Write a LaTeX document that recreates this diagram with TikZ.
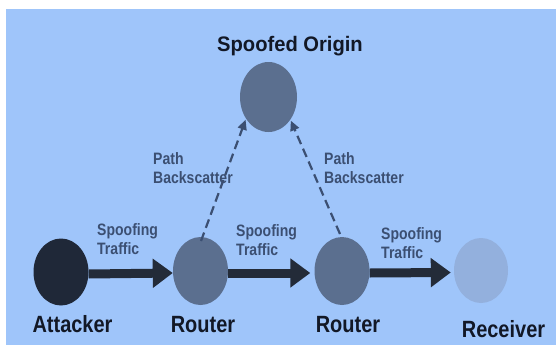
\documentclass[tikz,border=0pt]{standalone}
\usepackage{fontspec}
\setmainfont{Liberation Sans}
\newfontfamily\condsans{Liberation Sans}[FakeStretch=0.85]
\newfontfamily\titlesans{Liberation Sans}[FakeStretch=0.96]
\usetikzlibrary{arrows.meta,shapes.geometric}
\definecolor{bgblue}{HTML}{9FC5FA}
\definecolor{hostdark}{HTML}{1F2838}
\definecolor{hostmid}{HTML}{5B6F8F}
\definecolor{hostlight}{HTML}{93B0DD}
\definecolor{inkdark}{HTML}{121826}
\definecolor{inklabel}{HTML}{3B4F72}
\definecolor{shaft}{HTML}{232B38}
\tikzset{
  host/.style={ellipse, minimum width=55pt, minimum height=68pt, inner sep=0pt, fill=#1},
  hostname/.style={font=\condsans\bfseries\fontsize{23.5}{25}\selectfont, text=inkdark, inner sep=0pt, anchor=base},
  smalllabel/.style={font=\condsans\bfseries\fontsize{16.5}{19}\selectfont, text=inklabel, align=left, anchor=north west, inner sep=0pt},
  flow/.style={draw=shaft, line width=9pt, -{Triangle[length=20pt,width=28pt]}},
  backflow/.style={draw=inklabel, line width=2.2pt, dash pattern=on 9pt off 5pt, -{Triangle[length=10pt,width=9pt]}, shorten >=1pt}
}
\begin{document}
\begin{tikzpicture}[x=1pt,y=-1pt]
\useasboundingbox (0,0) rectangle (556,345);
\fill[white] (0,0) rectangle (556,345);
\fill[bgblue] (6,9) rectangle (556,345);

% hosts
\node[host=hostmid, minimum width=57pt, minimum height=70pt] (origin) at (268.5,97) {};
\node[host=hostdark, minimum height=67pt] (attacker) at (61,272) {};
\node[host=hostmid] (r1) at (200.5,271) {};
\node[host=hostmid] (r2) at (342,271) {};
\node[host=hostlight, minimum width=54pt, minimum height=65pt] (receiver) at (481,270.5) {};

% names
\node[hostname, font=\titlesans\bfseries\fontsize{21}{22}\selectfont] (tOrigin) at (290,52) {Spoofed Origin};
\node[hostname] (tAtt) at (72.5,332) {Attacker};
\node[hostname] (tR1) at (203,332) {Router};
\node[hostname] (tR2) at (348,332) {Router};
\node[hostname] (tRec) at (503.5,337) {Receiver};

% spoofed traffic along the chain
\draw[flow] ([yshift=-2pt]attacker.east) -- ([yshift=-2pt]r1.west);
\draw[flow] ([yshift=-2pt]r1.east) -- ([xshift=-4pt,yshift=-2pt]r2.west);
\draw[flow] ([yshift=-2pt]r2.east) -- ([xshift=-3pt,yshift=-2pt]receiver.west);

\node[smalllabel] (s1) at (97,223) {Spoofing\\Traffic};
\node[smalllabel] (s2) at (236,224) {Spoofing\\Traffic};
\node[smalllabel] (s3) at (381,227) {Spoofing\\Traffic};

% backscatter towards the spoofed origin
\coordinate (b1) at (201,241);
\coordinate (b2) at (340,234);
\draw[backflow] (b1) -- (origin.-136);
\draw[backflow] (b2) -- (origin.-46);

\node[smalllabel] (p1) at (153,152) {Path\\Backscatter};
\node[smalllabel] (p2) at (324,152) {Path\\Backscatter};
\end{tikzpicture}
\end{document}
